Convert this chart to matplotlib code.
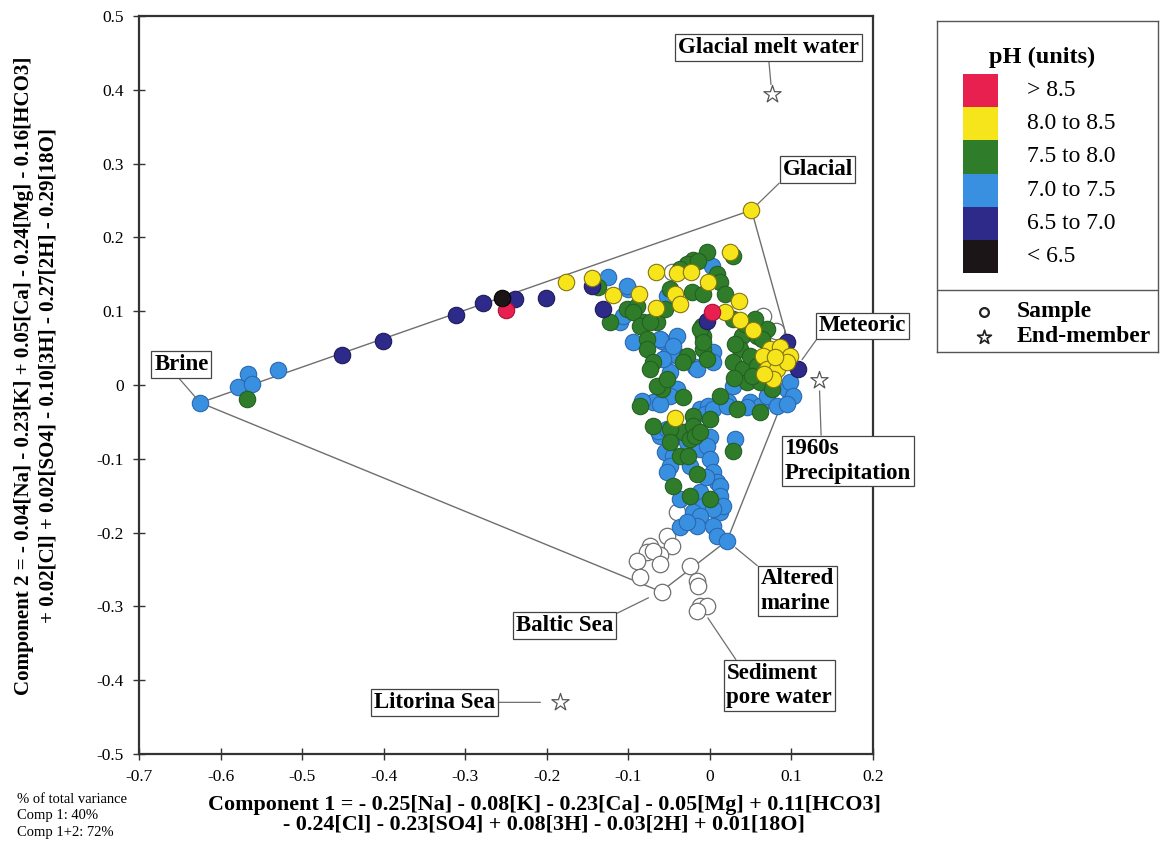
import matplotlib
matplotlib.use("Agg")
import matplotlib.pyplot as plt
from matplotlib.patches import Rectangle

plt.rcParams['font.family'] = ['Liberation Serif', 'DejaVu Serif']
plt.rcParams['axes.unicode_minus'] = False

# ---------------------------------------------------------------- data
# pH classes: labels and colours
ph_labels = ["> 8.5", "8.0 to 8.5", "7.5 to 8.0", "7.0 to 7.5", "6.5 to 7.0", "< 6.5"]
ph_colors = ["#e8204f", "#f7e51c", "#2f7d2b", "#3a90e0", "#2d2a8a", "#1c1518"]
ph_edges = ["#a8103a", "#857510", "#245f22", "#2a68b0", "#1c1a5c", "#000000"]

# PCA scores (Component 1, Component 2) of samples, by pH class
red_x = [-0.250, 0.002]
red_y = [0.101, 0.099]

yellow_x = [-0.176, -0.145, -0.119, -0.087, -0.066, -0.040, -0.023, -0.002, -0.043,
            -0.037, -0.066, 0.025, 0.051, 0.018, 0.036, 0.037, 0.053, 0.074, 0.086,
            0.098, 0.065, 0.070, 0.082, 0.077, 0.094, 0.080, 0.066, -0.043]
yellow_y = [0.139, 0.145, 0.122, 0.123, 0.153, 0.152, 0.153, 0.139, 0.123,
            0.110, 0.104, 0.180, 0.237, 0.099, 0.114, 0.088, 0.074, 0.049, 0.051,
            0.039, 0.039, 0.022, 0.022, 0.008, 0.031, 0.038, 0.015, -0.045]

green_x = [-0.568,
           -0.137, -0.123, -0.102, -0.089, -0.082, -0.065, -0.055, -0.049, -0.022, -0.009,
           -0.094, -0.086, -0.074, -0.077, -0.077, -0.070, -0.074, -0.028, -0.033, -0.010,
           -0.009, -0.009, -0.004, -0.012, -0.009,
           -0.004, -0.021, -0.028, 0.009, 0.012, 0.028, -0.015, -0.037, 0.018,
           0.028, 0.039, 0.037, 0.028, 0.040, 0.045, 0.061, 0.058, 0.070, 0.049, 0.058,
           0.043, 0.055, 0.031, 0.064, 0.076, 0.030, 0.052,
           0.012, 0.033, 0.061,
           -0.086, -0.033, -0.059, -0.021, -0.070, -0.033, -0.025, -0.049, -0.021, -0.018,
           0.000, -0.012, -0.049, 0.028, -0.037, -0.027, -0.016, -0.045, -0.025, 0.000,
           -0.065, -0.053]
green_y = [-0.019,
           0.133, 0.085, 0.103, 0.107, 0.085, 0.085, 0.103, 0.130, 0.126, 0.123,
           0.099, 0.080, 0.085, 0.062, 0.049, 0.031, 0.022, 0.039, 0.031, 0.080,
           0.066, 0.049, 0.035, 0.076, 0.058,
           0.180, 0.170, 0.164, 0.150, 0.139, 0.175, 0.168, 0.157, 0.123,
           0.089, 0.066, 0.049, 0.031, 0.022, 0.004, 0.004, 0.066, 0.076, 0.039, 0.026,
           0.083, 0.089, 0.055, 0.062, -0.005, 0.010, 0.012,
           -0.015, -0.032, -0.037,
           -0.028, -0.016, -0.005, -0.042, -0.055, -0.064, -0.073, -0.060, -0.055, -0.069,
           -0.046, -0.064, -0.077, -0.089, -0.096, -0.096, -0.120, -0.137, -0.150, -0.154,
           -0.001, 0.008]

blue_x = [-0.625, -0.579, -0.566, -0.561, -0.529,
          -0.125, -0.100, -0.102, -0.110, -0.094, -0.107,
          -0.058, -0.053, -0.059, -0.040, -0.053, -0.049, -0.039, -0.018, 0.002, 0.004,
          0.004, -0.016, -0.061, -0.045, -0.058,
          -0.070, -0.083, -0.040, -0.049, -0.061, -0.012, -0.002, -0.006, 0.004,
          -0.061, -0.064, -0.053, -0.033, -0.028, 0.000, 0.031,
          0.028, 0.022, 0.049, 0.061, 0.070, 0.082, 0.094, 0.098, 0.102, 0.094, 0.045, 0.021,
          -0.055, -0.045, -0.012, -0.004, 0.000, -0.049, -0.053, -0.025, 0.004, 0.009, 0.012,
          -0.037, -0.012, 0.012, -0.009, -0.021, 0.012, 0.016, 0.004, -0.012, -0.037,
          -0.016, 0.004, 0.009, 0.021, -0.028, -0.005]
blue_y = [-0.024, -0.003, 0.015, 0.001, 0.020,
          0.146, 0.130, 0.134, 0.085, 0.058, 0.093,
          0.103, 0.120, 0.060, 0.066, 0.039, 0.018, 0.039, 0.024, 0.161, 0.045,
          0.031, 0.022, 0.062, 0.053, 0.035,
          -0.023, -0.022, -0.005, -0.015, -0.026, -0.032, -0.028, -0.039, -0.032,
          -0.069, -0.062, -0.060, -0.069, -0.077, -0.070, -0.073,
          -0.001, -0.023, -0.023, -0.028, -0.015, -0.028, -0.005, 0.004, -0.015, -0.026, -0.030, -0.028,
          -0.091, -0.096, -0.087, -0.083, -0.100, -0.110, -0.118, -0.110, -0.118, -0.131, -0.137,
          -0.154, -0.145, -0.150, -0.164, -0.172, -0.172, -0.164, -0.168, -0.177, -0.192,
          -0.191, -0.191, -0.204, -0.211, -0.185, -0.125]

dblue_x = [-0.451, -0.401, -0.311, -0.278, -0.239, -0.201, -0.145, -0.131, -0.004, 0.094, 0.108]
dblue_y = [0.041, 0.060, 0.095, 0.111, 0.116, 0.118, 0.134, 0.103, 0.087, 0.058, 0.022]

black_x = [-0.255]
black_y = [0.118]

# samples without pH measurement
open_x = [-0.047, 0.065, 0.081, -0.040, -0.052, -0.047, -0.074, -0.077, -0.061, -0.070,
          -0.061, -0.089, -0.086, -0.059, -0.025, -0.016, -0.015, -0.012, -0.004, -0.016]
open_y = [0.153, 0.093, 0.073, -0.172, -0.204, -0.218, -0.218, -0.226, -0.231, -0.225,
          -0.242, -0.239, -0.260, -0.280, -0.245, -0.265, -0.272, -0.300, -0.300, -0.306]

# mixing polygon end-members (sample based)
mix_names = ["Brine", "Glacial", "Meteoric", "Altered\nmarine", "Baltic Sea"]
mix_x = [-0.625, 0.051, 0.105, 0.021, -0.060]
mix_y = [-0.024, 0.237, 0.022, -0.211, -0.280]

# modelled end-members (stars)
star_names = ["Glacial melt water", "1960s\nPrecipitation", "Litorina Sea"]
star_x = [0.076, 0.134, -0.184]
star_y = [0.394, 0.007, -0.430]

# sediment pore water group
sed_name = "Sediment\npore water"
sed_x, sed_y = -0.012, -0.300

x_ticks = [-0.7, -0.6, -0.5, -0.4, -0.3, -0.2, -0.1, 0.0, 0.1, 0.2]
x_tick_labels = ["-0.7", "-0.6", "-0.5", "-0.4", "-0.3", "-0.2", "-0.1", "0", "0.1", "0.2"]
y_ticks = [-0.5, -0.4, -0.3, -0.2, -0.1, 0.0, 0.1, 0.2, 0.3, 0.4, 0.5]
y_tick_labels = ["-0.5", "-0.4", "-0.3", "-0.2", "-0.1", "0", "0.1", "0.2", "0.3", "0.4", "0.5"]

# ---------------------------------------------------------------- figure
W, H = 1165, 867
fig = plt.figure(figsize=(W / 100, H / 100), dpi=100)
fig.patch.set_facecolor("white")


def px_box(x0, y0, x1, y1):
    return [x0 / W, 1 - y1 / H, (x1 - x0) / W, (y1 - y0) / H]


ax = fig.add_axes(px_box(139, 16, 873, 754))
ax.set_xlim(-0.7, 0.2)
ax.set_ylim(-0.5, 0.5)
ax.set_xticks(x_ticks)
ax.set_xticklabels(x_tick_labels)
ax.set_yticks(y_ticks)
ax.set_yticklabels(y_tick_labels)
ax.tick_params(direction="inout", length=8, width=1.0, labelsize=12.5, color="#333333", pad=7)
for s in ax.spines.values():
    s.set_linewidth(1.6)
    s.set_color("#333333")

# mixing polygon
ax.plot(mix_x + [mix_x[0]], mix_y + [mix_y[0]], color="#6e6e6e", lw=1.0, zorder=1)

ms = 140
ax.scatter(open_x, open_y, s=ms, facecolor="white", edgecolor="#707070", lw=0.9, zorder=2)
series = [
    (blue_x, blue_y, 3), (green_x, green_y, 2), (dblue_x, dblue_y, 4),
    (yellow_x, yellow_y, 1), (red_x, red_y, 0), (black_x, black_y, 5),
]
for i, (xs, ys, k) in enumerate(series):
    ax.scatter(xs, ys, s=ms, facecolor=ph_colors[k], edgecolor=ph_edges[k], lw=0.8, zorder=3 + i)

ax.scatter(star_x, star_y, s=170, marker="*", facecolor="white", edgecolor="#555555", lw=0.9, zorder=9)

box = dict(boxstyle="square,pad=0.12", fc="white", ec="#444444", lw=0.9)
lab_kw = dict(fontsize=16.5, fontweight="bold", ha="center", va="center",
              multialignment="left", bbox=box, zorder=10, annotation_clip=False)
line = dict(arrowstyle="-", color="#6e6e6e", lw=0.9, shrinkA=0)

# labelled end-members: (name, anchor, text centre, relpos, gap)
labels = [
    (star_names[0], (star_x[0], star_y[0]), (0.072, 0.457), (0.5, 0.0), 7),
    (mix_names[1], (mix_x[1], mix_y[1]), (0.132, 0.292), (0.0, 0.0), 6),
    (mix_names[2], (mix_x[2], mix_y[2]), (0.187, 0.080), (0.0, 0.0), 8),
    (star_names[1], (star_x[1], star_y[1]), (0.169, -0.103), (0.29, 1.0), 8),
    (mix_names[0], (mix_x[0], mix_y[0]), (-0.648, 0.028), (0.4, 0.0), 4),
    (mix_names[3], (mix_x[3], mix_y[3]), (0.107, -0.279), (0.0, 1.0), 8),
    (mix_names[4], (mix_x[4], mix_y[4]), (-0.178, -0.326), (1.0, 1.0), 10),
    (sed_name, (sed_x, sed_y), (0.085, -0.407), (0.11, 1.0), 10),
    (star_names[2], (star_x[2], star_y[2]), (-0.338, -0.430), (1.0, 0.5), 14),
]
for name, xy, xyt, rp, gap in labels:
    ax.annotate(name, xy=xy, xytext=xyt, textcoords="data",
                arrowprops=dict(line, relpos=rp, shrinkB=gap), **lab_kw)

# axis titles
fig.text(544 / W, 1 - 795 / H,
         "Component 1 = - 0.25[Na] - 0.08[K] - 0.23[Ca] - 0.05[Mg] + 0.11[HCO3]\n"
         "- 0.24[Cl] - 0.23[SO4] + 0.08[3H] - 0.03[2H] + 0.01[18O]",
         ha="center", va="top", fontsize=15.8, fontweight="bold",
         multialignment="center", linespacing=0.97)
fig.text(36 / W, 1 - 376 / H,
         "Component 2 = - 0.04[Na] - 0.23[K] + 0.05[Ca] - 0.24[Mg] - 0.16[HCO3]\n"
         "+ 0.02[Cl] + 0.02[SO4] - 0.10[3H] - 0.27[2H] - 0.29[18O]",
         ha="center", va="center", rotation=90, fontsize=15.1, fontweight="bold",
         multialignment="center", linespacing=1.3)
fig.text(17 / W, 1 - 793 / H, "% of total variance\nComp 1: 40%\nComp 1+2: 72%",
         ha="left", va="top", fontsize=10.5, linespacing=1.35)

# legend panel
lax = fig.add_axes(px_box(937, 21, 1158, 352))
lax.set_xlim(0, 221)
lax.set_ylim(331, 0)
lax.set_xticks([])
lax.set_yticks([])
for s in lax.spines.values():
    s.set_linewidth(1.0)
    s.set_color("#555555")
lax.text(105, 36, "pH (units)", ha="center", va="center", fontsize=17.5, fontweight="bold")
row_h = 33.2
for i, (lab, col) in enumerate(zip(ph_labels, ph_colors)):
    lax.add_patch(Rectangle((26, 53 + i * row_h), 35, row_h, fc=col, ec="none"))
    lax.text(90, 53 + (i + 0.5) * row_h, lab, ha="left", va="center", fontsize=17)
lax.plot([0, 221], [269, 269], color="#555555", lw=1.0)
lax.scatter([47], [291], s=40, facecolor="white", edgecolor="#222222", lw=1.6)
lax.text(80, 291, "Sample", ha="left", va="center", fontsize=17, fontweight="bold")
lax.scatter([47], [316], s=110, marker="*", facecolor="white", edgecolor="#222222", lw=1.2)
lax.text(80, 316, "End-member", ha="left", va="center", fontsize=17, fontweight="bold")

fig.savefig("out.png", dpi=100, facecolor="white")
